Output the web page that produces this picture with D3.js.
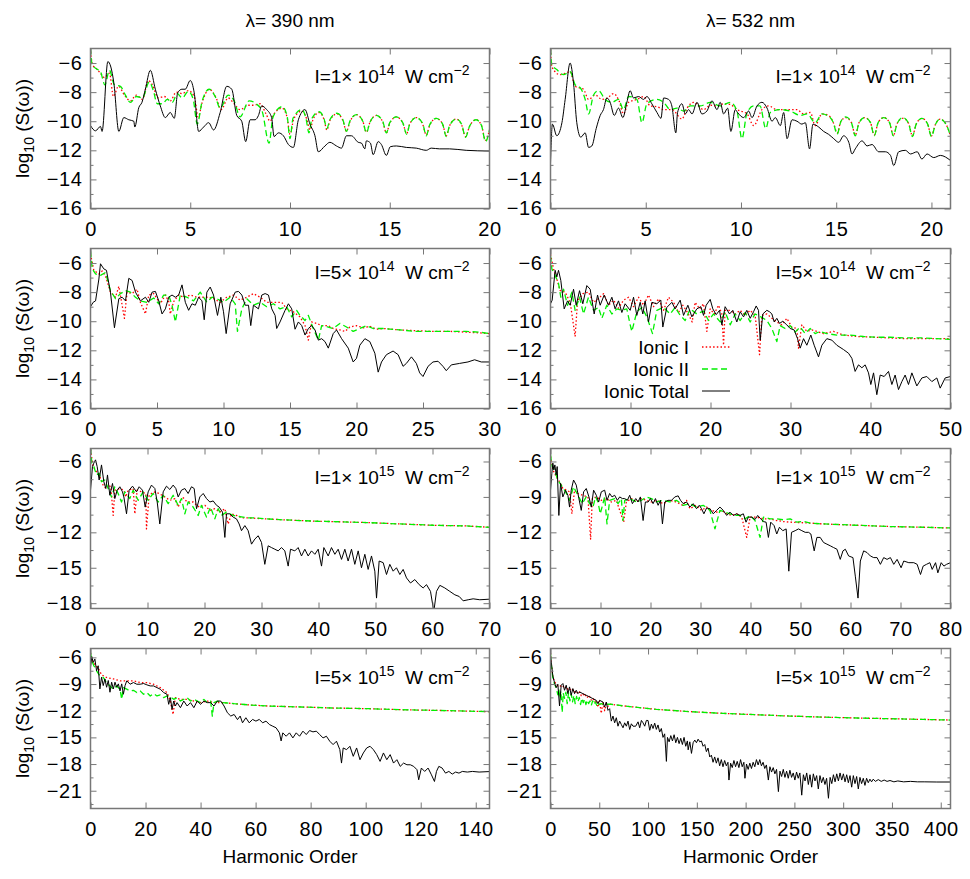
<!DOCTYPE html>
<html><head><meta charset="utf-8">
<script src="https://cdn.jsdelivr.net/npm/d3@7"></script>
<style>body{margin:0;background:#fff}</style>
</head><body>
<svg id="chart" width="970" height="879"></svg>
<script>
// ---------------- DATA (harmonic order, log10 S) ----------------
const p1Total=[[0,-10.3],[0.25,-10.66],[0.5,-10.36],[0.58,-10.7],[0.87,-5.9],[1.17,-7.36],[1.42,-10.7],[1.67,-9.75],[1.92,-9.9],[2.17,-10],[2.22,-10.4],[2.42,-9.07],[2.58,-8.7],[2.75,-7.8],[3.0,-6.5],[3.25,-7.8],[3.5,-8.95],[3.75,-9.75],[4.0,-9.4],[4.2,-9.8],[4.37,-8.05],[4.58,-7.8],[4.75,-7.8],[5.0,-7.2],[5.2,-8.05],[5.42,-10.7],[5.67,-10.4],[5.92,-10.1],[6.17,-10.6],[6.5,-9.4],[6.83,-7.6],[7.08,-7.8],[7.33,-9.6],[7.58,-10],[7.78,-11.4],[8.0,-9.9],[8.25,-9.9],[8.42,-9.6],[8.58,-8.95],[8.83,-9.2],[9.08,-9.75],[9.2,-11.05],[9.42,-10.8],[9.67,-11],[9.92,-11.6],[10.17,-11.8],[10.42,-9.9],[10.75,-9.2],[11.0,-10.2],[11.25,-11],[11.42,-12.1],[11.75,-11.7],[12.0,-11.45],[12.33,-11.7],[12.58,-11.85],[12.83,-11],[13.08,-11],[13.42,-11.45],[13.58,-11.5],[13.75,-11.9],[13.83,-11.35],[14.03,-11.5],[14.17,-12.3],[14.42,-11.4],[14.58,-11.6],[14.83,-12.35],[15.03,-11.75],[15.33,-11.7],[15.83,-11.8],[16.33,-11.85],[16.83,-12.0],[17.08,-11.85],[17.5,-11.9],[18,-11.9],[18.83,-12],[20,-12.05]];
const p1Ion2=[[0,-5.0],[0.08,-6.1],[0.3,-6.4],[0.5,-6.6],[0.72,-7.5],[0.95,-6.5],[1.2,-7.5],[1.5,-7.6],[1.75,-8.2],[2.0,-8.7],[2.3,-8.3],[2.6,-8.4],[2.95,-7.3],[3.15,-7.9],[3.35,-8.8],[3.6,-8.8],[3.85,-8.5],[4.1,-8.7],[4.35,-8.1],[4.6,-8.4],[4.9,-7.95],[5.15,-8.5],[5.35,-10.2],[5.6,-8.6],[5.95,-7.8],[6.25,-8.3],[6.5,-9.1],[6.9,-8.2],[7.2,-8.6],[7.5,-9.7],[7.95,-8.6],[8.3,-8.8],[8.6,-9.3],[8.95,-11.5],[9.15,-9.7],[9.6,-9.0],[9.85,-9.6],[10.0,-11.2],[10.15,-9.8],[10.6,-9.2],[10.8,-9.8],[10.95,-10.8],[11.1,-9.8],[11.45,-9.35],[11.7,-9.8],[11.85,-10.5],[12.0,-9.9],[12.35,-9.45],[12.65,-9.9],[12.83,-10.7],[13.0,-10.0],[13.33,-9.55],[13.65,-10.0],[13.83,-10.8],[14.0,-10.1],[14.33,-9.6],[14.65,-10.0],[14.83,-10.8],[15.0,-10.1],[15.33,-9.7],[15.65,-10.1],[15.85,-10.9],[16.0,-10.2],[16.33,-9.75],[16.65,-10.15],[16.83,-11.0],[17.0,-10.25],[17.33,-9.8],[17.65,-10.2],[17.83,-11.05],[18.0,-10.3],[18.33,-9.85],[18.6,-10.2],[18.8,-11.1],[19.0,-10.35],[19.33,-9.9],[19.6,-10.3],[19.8,-11.4],[20,-10.6]];
const p1Ion1=[[0,-5.2],[0.1,-6.1],[0.3,-6.4],[0.5,-6.7],[0.7,-7.0],[0.95,-6.7],[1.15,-8.3],[1.4,-7.6],[1.7,-8.2],[2.0,-8.6],[2.3,-8.2],[2.6,-8.5],[2.9,-7.2],[3.1,-7.5],[3.4,-8.4],[3.7,-8.3],[4.0,-8.6],[4.3,-8.0],[4.6,-8.1],[4.9,-7.9],[5.2,-8.3],[5.4,-9.7],[5.6,-8.7],[5.95,-7.8],[6.3,-8.4],[6.55,-9.2],[6.9,-8.4],[7.2,-8.8],[7.5,-9.2],[7.9,-8.9],[8.2,-8.9],[8.5,-8.8],[8.8,-9.5],[9.0,-10.0],[9.2,-9.5],[9.6,-9.1],[9.85,-9.7],[10.0,-10.9],[10.2,-9.8],[10.6,-9.3],[10.85,-9.9],[11.0,-10.6],[11.15,-9.9],[11.45,-9.4],[11.7,-9.85],[11.85,-10.6],[12.0,-9.95],[12.35,-9.5],[12.65,-9.95],[12.83,-10.7],[13.0,-10.05],[13.33,-9.55],[13.65,-10.0],[13.83,-10.75],[14.0,-10.1],[14.33,-9.6],[14.65,-10.05],[14.83,-10.8],[15.0,-10.15],[15.33,-9.7],[15.65,-10.1],[15.85,-10.85],[16.0,-10.2],[16.33,-9.75],[16.65,-10.2],[16.83,-10.95],[17.0,-10.3],[17.33,-9.8],[17.65,-10.2],[17.83,-11.0],[18.0,-10.3],[18.33,-9.85],[18.6,-10.25],[18.8,-11.05],[19.0,-10.35],[19.33,-9.9],[19.6,-10.3],[19.8,-11.3],[20,-10.6]];

const p2Total=[[0,-12.9],[0.1,-10.2],[0.33,-11.0],[0.6,-10.1],[0.77,-8.5],[1.03,-6.0],[1.21,-7.4],[1.38,-10.1],[1.59,-11.1],[1.82,-10.8],[2.0,-11.8],[2.17,-11.7],[2.4,-10.5],[2.61,-9.6],[2.78,-9.2],[2.96,-8.4],[3.13,-8.7],[3.35,-9.6],[3.57,-9.1],[3.8,-9.75],[4.01,-8.7],[4.18,-7.9],[4.36,-8.4],[4.62,-8.3],[4.89,-8.5],[5.06,-8.3],[5.32,-8.8],[5.59,-9.4],[5.8,-9.8],[5.94,-8.4],[6.2,-8.5],[6.37,-8.95],[6.58,-10.8],[6.67,-9.4],[6.9,-8.8],[7.08,-9.5],[7.25,-9.2],[7.43,-9.5],[7.69,-8.7],[7.95,-9.5],[8.21,-9.3],[8.48,-8.6],[8.74,-9.2],[8.91,-8.7],[9.09,-9.5],[9.3,-9.1],[9.47,-10.7],[9.7,-9.2],[9.82,-9.4],[10.14,-9.75],[10.4,-9.3],[10.58,-9.75],[10.84,-8.95],[11.1,-8.7],[11.37,-9.1],[11.63,-10.0],[11.8,-9.75],[12.07,-10.3],[12.24,-9.4],[12.42,-11.2],[12.68,-9.9],[12.94,-10],[13.2,-10.2],[13.38,-10.1],[13.6,-11.9],[13.78,-10.2],[14.08,-10.4],[14.34,-10.7],[14.6,-10.9],[14.87,-11.2],[15.13,-11.45],[15.39,-11],[15.66,-11.45],[15.83,-12.25],[16.0,-11.9],[16.36,-11.35],[16.62,-11.7],[16.88,-11.6],[17.23,-12.1],[17.58,-12.1],[17.85,-12.35],[18.02,-13.05],[18.28,-12.1],[18.63,-12.0],[18.9,-12.25],[19.25,-12.1],[19.5,-12.6],[19.77,-12.25],[20.12,-12.5],[20.47,-12.35],[21,-12.7]];
const p2Ion2=[[0,-5.05],[0.07,-6.1],[0.33,-6.45],[0.68,-6.8],[1.03,-6.6],[1.3,-7.5],[1.56,-7.7],[1.82,-8.5],[2.0,-9.5],[2.26,-8.2],[2.52,-7.9],[2.87,-8.5],[3.22,-8.7],[3.57,-8.5],[3.83,-9.2],[4.1,-8.3],[4.54,-8.5],[4.8,-10.1],[5.06,-8.8],[5.59,-8.5],[5.94,-8.7],[6.29,-9.2],[6.64,-9.1],[6.99,-9.3],[7.34,-8.95],[7.86,-8.95],[8.39,-8.7],[8.91,-8.95],[9.44,-8.7],[9.79,-9.3],[10.05,-11.2],[10.32,-9.4],[10.67,-8.95],[11.0,-8.95],[11.3,-10.5],[11.54,-9.4],[12.07,-9.2],[12.59,-9.3],[13.12,-9.6],[13.47,-9.5],[13.9,-10.1],[14.25,-9.5],[14.52,-9.6],[14.85,-10.1],[15.05,-10.9],[15.25,-10.0],[15.5,-9.7],[15.8,-10.1],[16.0,-11.0],[16.2,-10.1],[16.5,-9.75],[16.8,-10.1],[17.0,-11.0],[17.2,-10.1],[17.5,-9.75],[17.8,-10.1],[18.0,-11.0],[18.2,-10.15],[18.5,-9.75],[18.8,-10.15],[19.0,-11.05],[19.2,-10.2],[19.5,-9.8],[19.8,-10.2],[20.0,-11.05],[20.2,-10.25],[20.45,-9.85],[20.8,-10.3],[21,-11.0]];
const p2Ion1=[[0,-5.05],[0.07,-6.25],[0.5,-6.8],[1.03,-6.6],[1.3,-7.6],[1.73,-7.8],[2.0,-8.5],[2.35,-8.2],[2.7,-8.5],[3.0,-8.4],[3.3,-8.1],[3.6,-8.6],[3.83,-9.5],[4.1,-8.7],[4.54,-8.5],[4.89,-8.3],[5.24,-8.95],[5.6,-9.0],[5.94,-9.2],[6.38,-9.2],[6.9,-9.85],[7.17,-9.1],[7.52,-8.7],[8.04,-9.2],[8.4,-8.9],[8.74,-8.95],[9.1,-8.8],[9.44,-8.85],[9.79,-9.2],[10.32,-9.5],[10.67,-10.3],[11.1,-9.2],[11.45,-8.95],[11.89,-9.2],[12.42,-9.2],[12.94,-9.2],[13.29,-9.5],[13.64,-9.4],[13.9,-10.3],[14.25,-9.5],[14.6,-9.6],[14.85,-10.1],[15.05,-10.8],[15.25,-10.0],[15.5,-9.75],[15.8,-10.1],[16.0,-10.95],[16.2,-10.1],[16.5,-9.75],[16.8,-10.1],[17.0,-10.95],[17.2,-10.1],[17.5,-9.75],[17.8,-10.1],[18.0,-11.0],[18.2,-10.15],[18.5,-9.8],[18.8,-10.15],[19.0,-11.0],[19.2,-10.2],[19.5,-9.8],[19.8,-10.2],[20.0,-11.0],[20.2,-10.25],[20.45,-9.85],[20.8,-10.3],[21,-11.0]];

const p3Total=[[0,-9.0],[0.2,-8.7],[0.38,-8.6],[0.63,-7.1],[0.75,-6.05],[1.0,-6.4],[1.2,-6.5],[1.5,-8.0],[1.8,-10.45],[2.13,-8.45],[2.38,-8.35],[2.63,-8.6],[2.88,-7.05],[3.13,-7.2],[3.38,-8.0],[3.75,-8.6],[4.13,-8.35],[4.38,-8.7],[4.63,-8.0],[4.88,-7.95],[5.13,-8.6],[5.38,-9.5],[5.63,-9.15],[5.88,-8.35],[6.13,-8.2],[6.38,-8.35],[6.63,-8.2],[6.88,-7.5],[7.13,-8.7],[7.38,-9.25],[7.63,-8.8],[7.88,-8.9],[8.13,-8.35],[8.38,-8.6],[8.55,-9.9],[8.75,-8.0],[9.0,-7.65],[9.25,-8.2],[9.55,-9.6],[9.8,-8.35],[10.0,-9.35],[10.2,-10.85],[10.5,-8.8],[10.88,-8.0],[11.13,-7.95],[11.38,-8.2],[11.63,-8.9],[11.88,-8.9],[12.05,-10.3],[12.25,-8.9],[12.63,-9.15],[12.88,-8.2],[13.13,-8.1],[13.38,-8.2],[13.63,-9.15],[13.88,-9.6],[14.0,-10.5],[14.25,-10.05],[14.63,-9.25],[14.88,-8.8],[15.13,-9.15],[15.38,-10.55],[15.63,-10.05],[15.88,-10.3],[16.13,-10.95],[16.38,-10.5],[16.63,-10.3],[16.88,-10.6],[17.13,-11.3],[17.38,-11.2],[17.63,-11.4],[17.88,-11.85],[18.25,-10.85],[18.5,-10.6],[18.88,-11.2],[19.38,-11.85],[19.75,-12.8],[20.0,-12.55],[20.25,-11.65],[20.63,-11.2],[21.0,-11.4],[21.38,-12.2],[21.63,-13.5],[21.88,-12.8],[22.25,-12.3],[22.75,-12.05],[23.13,-12.3],[23.5,-13.1],[23.75,-12.9],[24.13,-12.45],[24.5,-12.9],[24.75,-13.55],[25.0,-13.8],[25.38,-13.1],[25.75,-12.8],[26.13,-12.75],[26.5,-13.1],[26.75,-13.4],[27.13,-13.0],[27.75,-12.9],[28.38,-12.8],[28.88,-12.65],[29.38,-12.8],[30,-12.8]];
const p3Ion2=[[0,-5.2],[0.13,-6.4],[0.38,-6.75],[0.75,-6.85],[1.13,-6.65],[1.5,-7.9],[1.88,-8.45],[2.25,-8.1],[2.63,-7.9],[3.0,-8.0],[3.38,-8.35],[3.75,-8.6],[4.25,-8.7],[4.75,-8.4],[5.13,-8.8],[5.5,-8.2],[5.88,-8.2],[6.13,-8.9],[6.38,-10.05],[6.75,-8.2],[7.25,-8.35],[7.75,-8.6],[8.25,-8.0],[8.75,-8.7],[9.13,-8.35],[9.5,-8.45],[10.0,-8.7],[10.5,-8.35],[10.88,-8.8],[11.05,-10.7],[11.38,-9.15],[11.75,-8.45],[12.25,-8.9],[12.75,-8.7],[13.25,-9.0],[13.75,-8.8],[14.25,-9.15],[14.75,-9.0],[15.13,-9.7],[15.5,-9.25],[15.75,-9.6],[16.13,-9.95],[16.38,-9.6],[16.75,-10.5],[17.13,-11.3],[17.38,-10.3],[17.88,-10.4],[18.25,-10.5],[18.75,-10.15],[19.25,-10.4],[19.75,-10.7],[20.25,-10.5],[20.75,-10.3],[21.25,-10.5],[22,-10.5],[23.25,-10.6],[24.5,-10.7],[25.75,-10.7],[27,-10.7],[28.25,-10.7],[29.25,-10.75],[30,-10.85]];
const p3Ion1=[[0,-5.4],[0.25,-6.5],[0.63,-6.75],[0.88,-6.55],[1.13,-6.9],[1.5,-8.0],[1.88,-8.35],[2.13,-7.6],[2.38,-8.9],[2.55,-9.8],[2.75,-8.0],[3.13,-8.1],[3.5,-7.8],[3.75,-8.7],[4.13,-9.5],[4.38,-8.2],[4.75,-8.1],[5.25,-8.8],[5.63,-8.2],[5.88,-8.65],[6.0,-9.5],[6.25,-8.65],[6.63,-8.2],[7.0,-8.35],[7.5,-8.2],[8.0,-8.35],[8.38,-8.35],[8.88,-8.35],[9.25,-8.45],[9.75,-8.7],[10.25,-8.35],[10.75,-8.2],[11.25,-8.55],[11.75,-8.35],[12.25,-8.1],[12.75,-8.35],[13.25,-8.7],[13.75,-8.7],[14.38,-8.7],[14.75,-9.15],[15.25,-9.35],[15.75,-9.7],[16.13,-10.3],[16.38,-11.3],[16.63,-10.05],[17.0,-10.15],[17.38,-10.3],[17.88,-10.3],[18.25,-10.5],[18.75,-10.6],[19.13,-10.7],[19.5,-10.4],[20.0,-10.3],[20.5,-10.45],[21.0,-10.35],[21.5,-10.55],[22,-10.5],[23.25,-10.6],[24.5,-10.65],[25.75,-10.7],[27,-10.7],[28.25,-10.75],[29.25,-10.8],[30,-10.85]];

const p4Total=[[0,-8.8],[0.21,-8.55],[0.58,-6.5],[0.79,-6.95],[1.0,-6.5],[1.29,-7.2],[1.71,-9.15],[2.13,-8.6],[2.46,-8.9],[2.88,-7.8],[3.21,-8.9],[3.63,-7.9],[4.04,-8.8],[4.54,-7.55],[4.96,-7.8],[5.46,-9.5],[5.88,-8.2],[6.21,-8.9],[6.71,-8.2],[7.25,-8.9],[7.67,-8.35],[8.08,-9.15],[8.5,-8.6],[8.92,-9.4],[9.33,-8.8],[9.96,-9.25],[10.38,-8.35],[10.79,-9.6],[11.21,-8.7],[11.54,-9.5],[11.83,-8.6],[12.25,-10.05],[12.67,-8.7],[13.29,-8.8],[13.79,-8.55],[14.04,-10.4],[14.54,-9.05],[15.17,-8.7],[15.58,-9.15],[16.21,-8.55],[16.63,-9.6],[17.17,-8.9],[17.67,-9.7],[18.29,-9.15],[18.79,-9.0],[19.13,-9.6],[19.46,-8.9],[19.96,-8.5],[20.29,-9.15],[20.71,-9.55],[21.13,-9.25],[21.42,-10.25],[21.83,-9.0],[22.38,-9.5],[22.79,-9.25],[23.29,-10.05],[23.71,-9.35],[24.13,-9.7],[24.54,-9.25],[24.96,-9.8],[25.38,-9.35],[25.71,-8.95],[26.0,-9.25],[26.21,-11.3],[26.54,-9.5],[27.04,-9.25],[27.38,-9.35],[27.67,-9.5],[27.96,-10.05],[28.29,-9.8],[28.63,-10.15],[29.04,-10.0],[29.54,-10.25],[29.96,-10.5],[30.46,-10.6],[30.88,-11.2],[31.21,-11.85],[31.63,-11.2],[32.04,-11.65],[32.54,-10.95],[32.96,-11.65],[33.5,-12.45],[33.92,-11.65],[34.54,-11.2],[35.17,-11.3],[35.79,-11.65],[36.63,-11.95],[37.25,-12.2],[37.67,-12.55],[38.08,-13.45],[38.5,-13.0],[38.92,-13.2],[39.33,-13.0],[39.75,-13.55],[40.04,-14.35],[40.38,-13.55],[40.79,-15.05],[41.21,-13.7],[41.71,-13.8],[42.25,-13.45],[42.67,-14.35],[43.08,-13.7],[43.5,-14.7],[43.92,-14.15],[44.33,-13.7],[44.75,-14.35],[45.17,-13.55],[45.79,-14.45],[46.42,-13.9],[47.04,-13.8],[47.67,-14.15],[48.29,-13.9],[48.71,-14.6],[49.33,-13.9],[50,-13.8]];
const p4Ion2=[[0,-5.5],[0.17,-6.4],[0.58,-6.85],[1.0,-7.4],[1.29,-8.35],[1.63,-7.8],[2.13,-8.9],[2.67,-8.0],[3.08,-9.25],[3.63,-8.35],[4.13,-9.5],[4.75,-8.35],[5.38,-9.25],[6.0,-9.05],[6.42,-9.8],[7.04,-8.9],[7.67,-9.5],[8.29,-9.15],[8.92,-9.25],[9.54,-9.15],[9.96,-10.25],[10.17,-10.7],[10.79,-9.35],[11.42,-9.05],[12.04,-9.7],[12.75,-10.85],[13.29,-9.25],[14.13,-9.05],[14.96,-9.5],[15.58,-9.05],[16.21,-9.6],[16.83,-9.95],[17.46,-9.15],[18.29,-9.5],[19.13,-9.3],[19.75,-9.95],[20.38,-9.5],[21.21,-10.05],[21.83,-9.35],[22.46,-10.25],[23.08,-9.5],[23.71,-9.95],[24.33,-9.4],[24.96,-10.05],[25.58,-9.5],[26.29,-9.7],[27.04,-9.95],[27.67,-10.5],[28.29,-11.4],[28.71,-10.3],[29.33,-10.5],[29.96,-10.3],[30.58,-10.75],[31.21,-10.4],[31.83,-10.85],[32.46,-10.5],[33.08,-10.85],[33.71,-10.7],[34.54,-10.85],[35.79,-10.95],[37.46,-10.95],[39.13,-11.05],[40.79,-11.1],[42.46,-11.1],[44.54,-11.15],[46.63,-11.15],[48.29,-11.2],[50,-11.25]];
const p4Ion1=[[0,-5.4],[0.38,-6.4],[0.79,-7.1],[1.21,-7.9],[1.83,-8.0],[2.46,-8.7],[3.08,-11.05],[3.38,-8.6],[4.04,-8.1],[4.75,-8.0],[5.38,-8.7],[6.0,-8.45],[6.63,-8.1],[7.25,-8.9],[7.88,-8.55],[8.5,-9.1],[9.13,-8.55],[9.75,-8.35],[10.38,-9.0],[11.0,-8.35],[11.63,-8.9],[12.25,-8.2],[12.88,-9.0],[13.5,-8.45],[14.13,-9.25],[14.75,-8.35],[15.38,-8.7],[16.0,-9.4],[16.54,-8.9],[17.13,-9.4],[17.71,-10.05],[18.08,-8.7],[18.63,-9.15],[19.13,-8.8],[19.54,-10.7],[19.96,-9.15],[20.46,-9.5],[21.0,-8.9],[21.42,-9.5],[21.63,-11.65],[21.83,-9.25],[22.46,-9.25],[23.08,-9.5],[23.71,-9.25],[24.33,-9.6],[24.96,-9.25],[25.58,-9.6],[26.13,-12.3],[26.42,-9.6],[27.04,-9.5],[27.67,-9.8],[28.29,-10.05],[28.92,-10.25],[29.54,-9.8],[30.17,-10.4],[30.79,-10.5],[31.0,-11.85],[31.42,-10.25],[32.04,-10.7],[32.67,-10.6],[33.29,-10.7],[34.13,-10.85],[35.38,-10.7],[36.63,-10.95],[38.29,-11.05],[40.38,-11.1],[42.46,-11.15],[44.54,-11.2],[46.63,-11.2],[50,-11.2]];

const p5Total=[[0,-8.43],[0.35,-6.43],[0.58,-6.14],[0.88,-5.86],[1.17,-6.43],[1.52,-7.57],[1.93,-6.29],[2.34,-7.71],[2.69,-8.29],[2.98,-7.14],[3.39,-8.86],[3.86,-7.86],[4.27,-9.14],[4.68,-8.43],[5.15,-8.14],[5.61,-8.57],[5.85,-9.0],[6.32,-10.43],[6.78,-8.43],[7.37,-8.09],[8.07,-8.57],[8.54,-8.14],[9.12,-8.43],[9.59,-9.86],[10.12,-8.57],[10.7,-8.0],[11.29,-8.29],[11.7,-9.43],[12.16,-11.29],[12.75,-8.57],[13.33,-8.09],[13.92,-8.37],[14.5,-8.0],[14.97,-8.29],[15.38,-9.0],[15.96,-8.43],[16.55,-8.29],[17.13,-8.71],[17.72,-8.14],[18.19,-8.29],[18.6,-10.0],[19.18,-9.0],[19.77,-8.71],[20.35,-9.14],[20.94,-9.43],[21.52,-9.34],[22.11,-9.71],[22.57,-9.86],[23.16,-10.29],[23.57,-12.43],[23.86,-10.43],[24.44,-10.43],[25.03,-10.71],[25.61,-10.86],[26.08,-11.29],[26.49,-11.86],[27.08,-11.43],[27.66,-11.86],[28.25,-13.0],[28.83,-12.57],[29.42,-12.29],[30.0,-12.86],[30.58,-14.71],[31.17,-13.14],[31.75,-13.29],[32.34,-13.43],[32.92,-13.57],[33.51,-13.29],[34.09,-13.57],[34.68,-14.86],[35.09,-13.43],[35.85,-13.57],[36.43,-13.29],[37.02,-14.0],[37.6,-13.43],[38.19,-14.0],[38.77,-13.57],[39.36,-13.86],[39.94,-13.43],[40.53,-14.86],[40.94,-13.29],[41.7,-14.0],[42.28,-13.29],[42.87,-13.86],[43.45,-13.43],[44.04,-14.29],[44.62,-13.43],[45.2,-14.43],[45.79,-13.43],[46.37,-14.71],[46.96,-13.57],[47.54,-15.0],[48.13,-13.86],[48.71,-15.14],[49.3,-14.0],[49.88,-15.29],[50.18,-17.57],[50.64,-14.43],[51.35,-14.57],[51.93,-15.57],[52.51,-14.71],[53.1,-15.29],[53.68,-15.0],[54.27,-15.57],[54.85,-15.14],[55.44,-15.86],[56.14,-16.29],[56.9,-16.0],[57.66,-16.43],[58.36,-16.71],[58.95,-16.43],[59.65,-17.0],[60.23,-18.71],[60.7,-17.0],[61.29,-16.49],[62.16,-16.71],[63.04,-17.0],[63.92,-17.29],[64.68,-17.43],[65.38,-17.8],[66.26,-17.71],[67.13,-17.63],[68.3,-17.71],[70,-17.66]];
const p5Ion2=[[0,-4.86],[0.23,-6.14],[0.58,-6.43],[1.05,-7.14],[1.52,-7.0],[1.93,-7.71],[2.51,-7.57],[3.1,-8.29],[3.68,-9.0],[4.27,-8.14],[4.85,-8.71],[5.44,-9.43],[6.02,-8.57],[6.9,-9.14],[7.49,-8.43],[8.36,-9.29],[9.24,-8.57],[10.12,-9.29],[11.0,-8.71],[11.87,-9.43],[12.75,-8.86],[13.63,-9.57],[14.5,-8.86],[15.38,-9.71],[15.96,-9.14],[16.55,-10.43],[17.13,-9.43],[18.01,-9.86],[18.89,-10.57],[19.47,-9.71],[20.35,-10.71],[21.05,-9.86],[21.81,-10.86],[22.4,-10.0],[22.98,-10.57],[23.86,-10.29],[25.03,-10.57],[26.2,-10.66],[27.37,-10.77],[28.54,-10.77],[30.88,-10.86],[33.8,-10.94],[36.73,-11.0],[39.65,-11.06],[42.57,-11.09],[48.42,-11.17],[54.27,-11.29],[60.12,-11.4],[65.96,-11.46],[70,-11.57]];
const p5Ion1=[[0,-5.0],[0.47,-6.43],[1.05,-6.86],[1.64,-7.29],[2.22,-8.0],[2.69,-8.29],[3.1,-8.0],[3.57,-8.14],[3.98,-10.57],[4.27,-8.43],[5.15,-8.29],[5.85,-8.43],[6.2,-9.0],[6.61,-8.43],[7.49,-8.29],[7.78,-10.43],[8.19,-8.43],[8.95,-8.57],[9.71,-8.71],[9.82,-11.71],[10.29,-8.86],[11.11,-8.57],[12.05,-8.71],[13.04,-9.0],[13.92,-9.29],[14.8,-9.14],[15.38,-9.86],[16.14,-9.0],[16.96,-9.43],[18.01,-9.43],[19.06,-9.86],[20.06,-9.71],[20.94,-10.14],[21.81,-10.0],[22.69,-10.29],[23.57,-10.0],[24.15,-11.29],[24.74,-10.43],[25.61,-10.57],[26.49,-10.77],[27.37,-10.77],[28.54,-10.8],[30.88,-10.86],[33.8,-10.94],[36.73,-11.0],[39.65,-11.06],[42.57,-11.09],[48.42,-11.17],[54.27,-11.29],[60.12,-11.4],[65.96,-11.46],[70,-11.57]];

const p6Total=[[0,-8.43],[0.27,-7.0],[0.47,-6.14],[0.67,-6.71],[0.87,-6.29],[1.14,-7.14],[1.34,-6.43],[1.67,-10.57],[2.01,-7.86],[2.47,-9.0],[3.01,-8.43],[3.48,-8.86],[3.81,-9.86],[4.14,-8.43],[4.61,-7.57],[5.15,-8.0],[5.68,-9.14],[6.15,-10.14],[6.62,-8.57],[7.15,-8.29],[7.69,-9.0],[8.16,-9.86],[8.62,-8.43],[9.16,-8.86],[9.63,-9.43],[10.16,-8.57],[10.83,-8.43],[11.3,-9.29],[11.83,-8.71],[12.3,-9.0],[12.83,-8.86],[13.37,-9.29],[13.84,-9.0],[14.37,-9.14],[14.84,-9.14],[15.37,-9.29],[15.84,-8.86],[16.38,-9.57],[17.05,-9.14],[17.51,-9.43],[17.98,-9.0],[18.52,-11.0],[18.98,-9.43],[19.52,-9.43],[19.99,-9.14],[20.52,-9.57],[20.99,-9.14],[21.52,-9.71],[21.99,-9.29],[22.39,-11.29],[22.86,-9.43],[23.53,-9.29],[24.2,-9.29],[24.87,-9.0],[25.53,-8.91],[26.0,-9.29],[26.54,-9.57],[27.21,-9.43],[27.87,-9.86],[28.54,-9.57],[29.21,-10.0],[29.75,-9.71],[30.21,-10.0],[30.68,-10.43],[31.22,-9.94],[31.88,-10.0],[32.55,-10.43],[33.22,-10.14],[33.89,-9.86],[34.56,-10.14],[35.23,-10.57],[35.9,-10.29],[36.56,-10.57],[37.23,-10.43],[37.9,-10.57],[38.57,-10.43],[39.1,-11.14],[39.57,-10.71],[40.24,-10.71],[40.91,-10.91],[41.44,-10.57],[42.05,-10.86],[42.58,-11.09],[43.12,-11.14],[43.58,-12.43],[44.05,-11.14],[44.72,-11.43],[45.25,-12.14],[45.79,-11.57],[46.46,-11.86],[47.13,-11.71],[47.66,-15.29],[48.2,-12.0],[48.93,-11.86],[49.6,-11.71],[50.27,-11.86],[50.94,-12.0],[51.6,-12.0],[52.07,-12.14],[52.74,-13.57],[53.28,-12.43],[53.94,-12.43],[54.61,-12.86],[55.28,-13.0],[55.95,-13.14],[56.62,-13.29],[57.29,-13.43],[57.95,-14.29],[58.49,-13.57],[58.96,-13.43],[59.63,-14.0],[60.49,-14.14],[60.96,-15.71],[61.5,-17.57],[61.97,-14.43],[62.63,-13.57],[63.3,-13.71],[63.97,-14.0],[64.64,-14.14],[65.31,-14.14],[65.98,-14.71],[66.64,-14.14],[67.31,-14.29],[67.98,-14.14],[68.65,-14.71],[69.32,-14.29],[70.12,-15.0],[70.65,-14.43],[71.66,-14.57],[72.66,-14.57],[73.33,-14.71],[74.0,-15.57],[74.53,-14.86],[75.2,-14.71],[75.87,-14.57],[76.34,-15.14],[77.01,-14.57],[77.47,-15.43],[78.14,-14.57],[78.68,-14.86],[79.21,-14.71],[80,-14.57]];
const p6Ion2=[[0,-5.43],[0.33,-6.43],[0.8,-6.71],[1.47,-7.57],[2.14,-8.0],[3.01,-8.57],[3.81,-9.29],[4.61,-8.14],[5.48,-8.86],[6.35,-9.57],[7.15,-9.0],[7.82,-9.57],[8.49,-9.86],[9.02,-9.0],[9.49,-9.43],[9.96,-10.43],[10.83,-9.0],[11.3,-11.29],[11.83,-9.29],[12.83,-9.14],[13.5,-9.57],[14.17,-9.14],[14.5,-11.0],[14.84,-9.3],[15.84,-9.14],[17.18,-9.43],[18.18,-9.29],[19.18,-9.0],[20.19,-9.14],[21.19,-9.43],[22.53,-9.29],[23.86,-9.43],[25.2,-9.29],[26.54,-9.71],[27.87,-9.57],[29.21,-9.86],[30.55,-9.71],[31.88,-10.14],[32.89,-11.71],[33.89,-10.14],[34.89,-10.29],[35.9,-10.43],[36.9,-10.57],[37.9,-10.57],[38.9,-10.86],[39.91,-10.57],[40.91,-11.0],[41.91,-12.43],[42.58,-10.71],[43.92,-10.86],[45.25,-10.86],[46.59,-10.94],[47.93,-10.86],[49.26,-11.14],[50.6,-11.06],[51.94,-11.23],[54.61,-11.29],[57.95,-11.34],[61.3,-11.4],[64.64,-11.46],[67.98,-11.51],[71.32,-11.54],[74.67,-11.57],[80,-11.63]];
const p6Ion1=[[0,-5.57],[0.47,-6.71],[1.14,-7.29],[1.8,-7.71],[2.47,-8.29],[3.28,-8.43],[3.81,-8.57],[4.28,-10.43],[4.81,-8.43],[5.48,-8.71],[6.48,-8.86],[7.49,-9.0],[7.82,-11.29],[8.02,-12.57],[8.36,-9.14],[9.16,-9.0],[10.16,-9.29],[11.16,-9.14],[12.17,-9.43],[13.17,-9.29],[14.64,-11.14],[15.17,-9.43],[16.18,-9.14],[17.18,-9.43],[18.18,-9.14],[19.18,-9.29],[20.19,-9.43],[21.19,-9.29],[22.53,-9.57],[23.86,-9.29],[25.2,-9.43],[26.4,-9.71],[27.21,-9.29],[27.87,-10.0],[29.08,-9.71],[30.21,-10.14],[31.22,-9.86],[32.22,-10.14],[33.22,-10.29],[34.22,-10.14],[35.23,-10.43],[36.23,-10.57],[37.23,-10.43],[38.24,-10.71],[39.24,-12.43],[39.91,-10.71],[41.24,-10.71],[42.58,-10.86],[43.92,-10.86],[45.25,-11.0],[46.59,-11.09],[47.93,-11.14],[51.27,-11.2],[54.61,-11.29],[61.3,-11.4],[67.98,-11.51],[74.67,-11.57],[80,-11.63]];

const p7Total=[[0,-7.13],[0.49,-5.92],[0.98,-6.57],[1.59,-6.19],[2.2,-7.51],[2.8,-6.94],[3.41,-9.55],[4.02,-8.23],[4.63,-9.17],[5.24,-8.42],[5.85,-9.36],[6.46,-8.6],[7.07,-9.92],[7.68,-8.79],[8.29,-9.55],[8.9,-8.79],[9.51,-9.36],[10.12,-8.98],[10.73,-9.77],[11.34,-8.98],[11.95,-10.15],[12.56,-9.17],[13.17,-8.64],[14.39,-9.02],[15.61,-8.83],[16.83,-9.02],[18.05,-9.02],[19.27,-8.94],[20.49,-9.09],[21.71,-9.21],[22.93,-9.21],[24.15,-9.4],[25.37,-9.58],[26.59,-9.96],[27.8,-10.15],[28.41,-11.28],[29.02,-10.53],[29.63,-11.85],[30.24,-10.91],[30.85,-11.47],[31.46,-11.09],[32.68,-11.66],[33.9,-10.91],[35.12,-11.47],[36.34,-11.09],[37.56,-11.66],[38.78,-10.91],[40.0,-11.28],[41.22,-10.91],[42.44,-11.09],[43.66,-11.09],[44.88,-11.47],[46.1,-10.91],[47.32,-10.91],[48.54,-11.47],[49.76,-12.23],[50.98,-12.6],[52.2,-12.42],[53.41,-13.0],[54.39,-12.6],[55.24,-13.36],[56.46,-12.79],[57.68,-13.36],[58.9,-12.98],[60.12,-13.17],[61.34,-12.98],[62.56,-13.36],[63.78,-13.17],[65.0,-13.55],[66.22,-13.74],[67.44,-13.92],[68.66,-14.49],[69.27,-15.4],[69.88,-14.49],[71.1,-14.87],[72.32,-14.49],[73.54,-15.06],[74.76,-14.49],[75.98,-14.87],[77.2,-14.3],[78.41,-14.68],[79.63,-14.23],[80.85,-14.38],[82.07,-14.3],[83.29,-14.68],[84.51,-15.06],[85.73,-14.87],[86.95,-15.43],[88.17,-15.81],[89.39,-15.43],[90.61,-16.38],[91.22,-17.89],[91.83,-16.19],[93.05,-16.38],[94.27,-16.0],[95.49,-17.13],[96.71,-16.19],[97.93,-17.51],[99.15,-16.75],[100.37,-16.19],[101.59,-16.0],[102.8,-16.38],[104.02,-16.94],[105.24,-17.7],[106.46,-16.75],[107.68,-17.51],[108.9,-16.94],[110.12,-17.89],[111.34,-17.51],[112.56,-18.26],[113.78,-17.89],[115.0,-18.08],[116.22,-18.08],[117.44,-18.26],[118.66,-18.64],[119.27,-19.77],[120.24,-18.45],[121.46,-18.83],[122.68,-18.45],[123.9,-19.21],[125.0,-19.96],[125.73,-18.83],[126.59,-18.26],[127.8,-18.45],[129.02,-19.02],[130.24,-18.83],[131.46,-19.13],[132.68,-18.9],[133.9,-19.02],[135.12,-18.83],[136.95,-18.9],[138.78,-18.83],[141.22,-18.9],[146,-18.83]];
const p7Ion2=[[0,-5.45],[0.49,-6.38],[1.22,-6.94],[2.2,-7.51],[3.41,-8.08],[4.63,-8.26],[5.85,-8.83],[7.07,-9.21],[8.29,-9.58],[9.51,-9.21],[10.73,-9.58],[11.34,-10.72],[11.95,-9.4],[13.17,-9.58],[14.39,-9.77],[15.61,-9.7],[16.83,-9.96],[18.05,-9.77],[19.27,-10.15],[20.49,-9.96],[21.71,-10.34],[22.93,-10.08],[24.15,-10.34],[25.37,-10.23],[26.59,-10.53],[27.8,-10.34],[29.02,-10.45],[30.24,-10.72],[31.46,-10.53],[32.68,-10.91],[33.9,-10.72],[35.12,-10.53],[36.34,-10.91],[37.56,-10.72],[38.78,-10.91],[40.0,-11.09],[41.22,-10.72],[42.44,-11.09],[43.66,-10.91],[44.27,-12.6],[44.88,-11.09],[46.1,-10.91],[47.32,-11.09],[49.76,-11.13],[52.2,-11.21],[58.29,-11.36],[64.39,-11.47],[76.59,-11.58],[88.78,-11.7],[100.98,-11.77],[113.17,-11.89],[125.37,-11.96],[146,-12.11]];
const p7Ion1=[[0,-5.51],[0.73,-6.45],[1.59,-6.83],[2.8,-7.21],[4.02,-7.96],[5.85,-8.26],[8.29,-8.42],[10.73,-8.64],[13.17,-8.64],[15.61,-8.64],[18.05,-8.83],[20.49,-8.83],[22.93,-9.02],[25.37,-9.4],[27.8,-9.96],[29.02,-10.91],[30.0,-12.42],[30.85,-10.53],[32.68,-10.72],[35.12,-10.72],[37.56,-10.91],[40.0,-11.09],[42.44,-10.91],[44.88,-11.09],[47.32,-11.09],[49.76,-11.13],[52.2,-11.21],[58.29,-11.36],[64.39,-11.47],[76.59,-11.58],[88.78,-11.7],[100.98,-11.77],[113.17,-11.89],[125.37,-11.96],[146,-12.11]];

const p8Total=[[0,-5.81],[1.03,-6.75],[2.4,-8.08],[4.11,-8.83],[5.82,-9.4],[7.53,-9.02],[9.25,-11.47],[10.96,-9.13],[12.67,-8.94],[14.38,-9.7],[16.1,-9.13],[17.81,-10.08],[19.52,-9.32],[21.23,-10.26],[22.95,-9.51],[24.66,-10.08],[26.37,-9.7],[28.08,-10.08],[29.79,-9.89],[33.22,-10.08],[36.64,-10.26],[40.07,-10.45],[43.49,-10.64],[46.92,-10.83],[48.63,-11.21],[50.34,-10.83],[53.77,-11.02],[55.48,-11.58],[57.19,-11.02],[58.9,-11.96],[60.62,-11.77],[62.33,-13.17],[64.04,-12.6],[65.75,-13.36],[67.47,-12.79],[69.18,-13.74],[70.89,-13.17],[72.6,-13.55],[74.32,-13.92],[76.03,-13.36],[77.74,-13.74],[79.45,-13.17],[81.16,-14.11],[82.88,-13.47],[84.59,-13.74],[87.33,-13.74],[89.73,-13.25],[91.44,-13.92],[93.15,-13.09],[94.86,-13.36],[96.58,-13.74],[98.29,-13.09],
[100,-13.1],[101.7,-14.2],[103.4,-13.5],[105.1,-14.0],[106.8,-13.4],[108.5,-14.1],[110.2,-13.6],[111.9,-14.4],[113.6,-14.0],[115.3,-15.0],[117.0,-14.6],[118.0,-16.2],[118.8,-17.7],[119.9,-15.0],[121.6,-15.5],[123.3,-14.8],[125.0,-15.4],[126.7,-14.7],[128.4,-15.6],[130.1,-15.0],[131.8,-15.7],[133.5,-15.1],[135.2,-15.8],[136.9,-15.0],[138.6,-16.0],[140.3,-15.4],[141.1,-16.4],[142.8,-15.5],[144.5,-16.8],[146.2,-15.6],[147.9,-15.3],[149.6,-15.6],[151.3,-15.2],[153.0,-15.5],[154.7,-15.4],[156.4,-16.0],[158.1,-15.8],[159.8,-16.6],[161.5,-16.2],[163.2,-17.2],[164.9,-17.0],[166.6,-17.8],[168.3,-17.2],[170.0,-17.9],[171.7,-17.3],[173.4,-18.2],[175.1,-17.5],[176.8,-18.3],[178.5,-17.6],[180.2,-18.2],[181.9,-17.8],[182.9,-19.8],[184.6,-17.9],[186.3,-18.4],[188.0,-17.6],[189.7,-18.3],[191.4,-17.7],[193.1,-18.4],[194.8,-17.5],[196.5,-18.3],[198.2,-17.8],[199.3,-19.6],[200.9,-18.0],[202.6,-18.6],[204.3,-17.9],[206.0,-18.5],[207.7,-17.8],[209.4,-18.3],[211.1,-17.5],[212.8,-18.1],[214.5,-17.5],[216.2,-18.2],[217.9,-17.8],[219.6,-18.5],[221.3,-18.1],[223.3,-19.8],[224.9,-18.3],[226.6,-18.9],[228.3,-18.4],[230.0,-19.1],[231.7,-18.6],[233.6,-21.1],[235.2,-18.8],[236.9,-19.4],[238.6,-18.6],[240.3,-19.5],[242.0,-18.8],[243.7,-19.6],[245.4,-18.7],[247.1,-19.5],[248.8,-19.0],[250.5,-19.8],[252.2,-18.9],[253.9,-19.6],[255.6,-19.0],[257.5,-21.5],[259.2,-19.2],[260.9,-19.9],[262.6,-19.0],[264.3,-20.3],[266.0,-19.2],[267.7,-20.6],[269.4,-19.1],[271.1,-19.9],[272.8,-19.3],[274.5,-20.8],[276.2,-19.3],[277.9,-20.1],[279.6,-19.5],[281.3,-20.3],[283.0,-19.6],[284.9,-21.85],[286.6,-19.5],[288.3,-20.2],[290.0,-19.2],[291.7,-20.0],[293.4,-19.1],[295.1,-19.9],[296.8,-19.0],[298.5,-19.8],[300.2,-19.1],[301.9,-20.0],[303.6,-19.2],[305.3,-20.1],[307.0,-19.3],[308.7,-20.6],[310.4,-19.3],[312.1,-20.2],[313.8,-19.4],[315.5,-20.8],[317.2,-19.5],[318.9,-20.2],[320.6,-19.6],[322.3,-20.4],[324.0,-19.6],[325.7,-20.1],[327.4,-19.7],[329.1,-20.0],[330.8,-19.7],[333,-19.95],[336,-19.75],[339,-19.95],[342,-19.8],[345,-19.95],[348,-19.85],[352,-20.0],[356,-19.9],[362,-20.0],[369,-19.95],[376,-20.0],[383,-20.0],[396,-20.02],[410,-20.02]];
const p8Ion2=[[0,-5.6],[1,-7.0],[2.4,-8.3],[4.1,-9.0],[5.8,-9.4],[7.5,-10.2],[8.5,-9.6],[9.6,-10.6],[10.6,-9.8],[12.0,-12.2],[13,-10.0],[14.4,-10.6],[15.8,-9.9],[17.1,-11.2],[18.5,-10.0],[19.9,-10.9],[21.2,-10.1],[22.6,-11.0],[24,-10.3],[25.3,-11.2],[26.7,-10.4],[28.1,-11.0],[29.5,-10.5],[30.8,-11.3],[32.2,-10.6],[33.6,-11.1],[35,-10.7],[36.3,-11.3],[37.7,-10.8],[39,-11.2],[40.4,-10.9],[41.8,-11.4],[43.2,-10.9],[44.5,-11.3],[46,-11.0],[47.3,-11.4],[48.7,-11.1],[50,-11.3],[52,-11.2],[55,-11.3],[60.6,-11.25],[74.3,-11.45],[91.4,-11.65],[108.6,-11.85],[142.8,-12.1],[177.1,-12.3],[211.3,-12.45],[245.5,-12.6],[279.8,-12.72],[314,-12.82],[348.3,-12.9],[382.5,-12.98],[410,-13.05]];
const p8Ion1=[[0,-5.5],[1,-6.9],[2.4,-8.2],[4.1,-8.7],[5.8,-9.0],[7.5,-9.2],[9.2,-9.1],[11,-9.3],[12.7,-9.2],[14.4,-9.5],[16.1,-9.3],[17.8,-9.6],[19.5,-9.5],[21.2,-9.8],[22.9,-9.6],[24.7,-9.9],[26.4,-9.8],[28.1,-10.1],[29.8,-9.9],[31.5,-10.3],[33.2,-10.1],[34.9,-10.4],[36.6,-10.2],[38.4,-10.6],[40.1,-10.4],[41.8,-10.8],[43.5,-10.6],[45.2,-11.0],[46.9,-10.8],[48.6,-11.6],[50.3,-10.9],[52,-12.3],[53.8,-11.0],[55.5,-12.0],[57.2,-11.2],[58.9,-11.5],[60.6,-11.25],[74.3,-11.45],[91.4,-11.65],[108.6,-11.85],[142.8,-12.1],[177.1,-12.3],[211.3,-12.45],[245.5,-12.6],[279.8,-12.72],[314,-12.82],[348.3,-12.9],[382.5,-12.98],[410,-13.05]];

// tick labels
const xTicks1=[0,5,10,15,20], xTicks3=[0,5,10,15,20,25,30], xTicks4=[0,10,20,30,40,50];
const xTicks5=[0,10,20,30,40,50,60,70], xTicks6=[0,10,20,30,40,50,60,70,80];
const xTicks7=[0,20,40,60,80,100,120,140], xTicks8=[0,50,100,150,200,250,300,350,400];
const yTicksA=[-16,-14,-12,-10,-8,-6], yMinorA=[-15,-13,-11,-9,-7];
const yTicksB=[-18,-15,-12,-9,-6], yMinorB=[-16.5,-13.5,-10.5,-7.5];
const yTicksC=[-21,-18,-15,-12,-9,-6], yMinorC=[-22.5,-19.5,-16.5,-13.5,-10.5,-7.5];
const titles=["λ= 390 nm","λ= 532 nm"];
const seriesNames=["Ionic I","Ionic II","Ionic Total"];

const panels=[
 {row:0,col:0,xMax:20,yDom:[-16,-5],xT:xTicks1,yT:yTicksA,yM:yMinorA,I:['1','14'],d:[p1Ion1,p1Ion2,p1Total],smooth:true},
 {row:0,col:1,xMax:21,yDom:[-16,-5],xT:xTicks1,yT:yTicksA,yM:yMinorA,I:['1','14'],d:[p2Ion1,p2Ion2,p2Total],smooth:true},
 {row:1,col:0,xMax:30,yDom:[-16,-5],xT:xTicks3,yT:yTicksA,yM:yMinorA,I:['5','14'],d:[p3Ion1,p3Ion2,p3Total]},
 {row:1,col:1,xMax:50,yDom:[-16,-5],xT:xTicks4,yT:yTicksA,yM:yMinorA,I:['5','14'],d:[p4Ion1,p4Ion2,p4Total]},
 {row:2,col:0,xMax:70,yDom:[-18.45,-4.9],xT:xTicks5,yT:yTicksB,yM:yMinorB,I:['1','15'],d:[p5Ion1,p5Ion2,p5Total]},
 {row:2,col:1,xMax:80,yDom:[-18.45,-4.9],xT:xTicks6,yT:yTicksB,yM:yMinorB,I:['1','15'],d:[p6Ion1,p6Ion2,p6Total]},
 {row:3,col:0,xMax:145,yDom:[-23,-5],xT:xTicks7,yT:yTicksC,yM:yMinorC,I:['5','15'],d:[p7Ion1,p7Ion2,p7Total]},
 {row:3,col:1,xMax:410,yDom:[-23,-5],xT:xTicks8,yT:yTicksC,yM:yMinorC,I:['5','15'],d:[p8Ion1,p8Ion2,p8Total]}
];

// ---------------- DRAW ----------------
const FONT="'Liberation Sans', Arial, Helvetica, sans-serif";
const svg=d3.select('#chart').style('font-family',FONT);
svg.append('rect').attr('width',970).attr('height',879).attr('fill','#fff');
const colX=[[90.5,489.5],[550.5,950.5]];
const rowY=[48.5,248.5,448.5,648.5];
const H=160;
const annoDy=[34.5,30,35,35];
const styles=[
 {stroke:'#ff0000',w:1.3,dash:'1.5,2.2'},
 {stroke:'#00f000',w:1.3,dash:'6,3.5'},
 {stroke:'#000000',w:1,dash:null}
];
const axisColor='#777';

function styleAxis(g){
  g.select('.domain').remove();
  g.selectAll('line').attr('stroke',axisColor).attr('stroke-width',1);
  g.selectAll('text').attr('fill','#000').attr('font-size',20).attr('letter-spacing',0.6).attr('font-family',FONT);
}

panels.forEach((p,i)=>{
  const [L,R]=colX[p.col]; const T=rowY[p.row]; const B=T+H;
  const x=d3.scaleLinear().domain([0,p.xMax]).range([L,R]);
  const y=d3.scaleLinear().domain(p.yDom).range([B,T]);
  const cid='clip'+i;
  svg.append('clipPath').attr('id',cid).append('rect').attr('x',L).attr('y',T).attr('width',R-L).attr('height',H);
  const lg=svg.append('g').attr('clip-path',`url(#${cid})`);
  const line=d3.line().x(d=>x(d[0])).y(d=>y(d[1])).curve(p.smooth?d3.curveMonotoneX:d3.curveLinear);
  p.d.forEach((s,k)=>{
    const st=styles[k];
    const path=lg.append('path').datum(s).attr('d',line).attr('fill','none')
      .attr('stroke',st.stroke).attr('stroke-width',st.w).attr('stroke-linejoin','round');
    if(st.dash) path.attr('stroke-dasharray',st.dash);
  });
  // axes (ticks inward, mirrored)
  svg.append('g').attr('transform',`translate(0,${B})`)
    .call(d3.axisBottom(x).tickValues(p.xT).tickFormat(d3.format('d')).tickSizeInner(-6).tickSizeOuter(0).tickPadding(13))
    .call(styleAxis);
  svg.append('g').attr('transform',`translate(0,${T})`)
    .call(d3.axisTop(x).tickValues(p.xT).tickFormat('').tickSizeInner(-6).tickSizeOuter(0)).call(styleAxis);
  svg.append('g').attr('transform',`translate(${L},0)`)
    .call(d3.axisLeft(y).tickValues(p.yT).tickFormat(d3.format('d')).tickSizeInner(-6).tickSizeOuter(0).tickPadding(8))
    .call(styleAxis);
  svg.append('g').attr('transform',`translate(${L},0)`)
    .call(d3.axisLeft(y).tickValues(p.yM).tickFormat('').tickSizeInner(-3).tickSizeOuter(0)).call(styleAxis);
  svg.append('g').attr('transform',`translate(${R},0)`)
    .call(d3.axisRight(y).tickValues(p.yT).tickFormat('').tickSizeInner(-6).tickSizeOuter(0)).call(styleAxis);
  svg.append('g').attr('transform',`translate(${R},0)`)
    .call(d3.axisRight(y).tickValues(p.yM).tickFormat('').tickSizeInner(-3).tickSizeOuter(0)).call(styleAxis);
  // frame
  svg.append('rect').attr('x',L).attr('y',T).attr('width',R-L).attr('height',H)
    .attr('fill','none').attr('stroke',axisColor).attr('stroke-width',1.5);
  // intensity annotation
  const t=svg.append('text').attr('x',R-20).attr('y',T+annoDy[p.row]).attr('text-anchor','end')
    .attr('font-size',19).attr('fill','#000');
  t.append('tspan').text('I='+p.I[0]+'×\u00a010');
  t.append('tspan').attr('dy',-8).attr('font-size',14).text(p.I[1]);
  t.append('tspan').attr('dy',8).text('\u00a0\u00a0W cm');
  t.append('tspan').attr('dy',-8).attr('font-size',14).text('−2');
  // y label (left column)
  if(p.col===0){
    const yl=svg.append('text').attr('transform',`translate(29,${T+H/2}) rotate(-90)`)
      .attr('text-anchor','middle').attr('font-size',19).attr('fill','#000');
    yl.append('tspan').text('log');
    yl.append('tspan').attr('dy',5).attr('font-size',14).text('10');
    yl.append('tspan').attr('dy',-5).text('\u00a0(S(ω))');
  }
});

// column titles
titles.forEach((tt,c)=>{
  const [L,R]=colX[c];
  svg.append('text').attr('x',(L+R)/2).attr('y',27).attr('text-anchor','middle')
    .attr('font-size',19).attr('fill','#000').text(tt);
  svg.append('text').attr('x',(L+R)/2).attr('y',863).attr('text-anchor','middle')
    .attr('font-size',19).attr('fill','#000').text('Harmonic Order');
});

// legend (inside panel row 1, right column)
const legY=[347,369,391];
seriesNames.forEach((n,k)=>{
  svg.append('text').attr('x',689).attr('y',legY[k]+7).attr('text-anchor','end')
    .attr('font-size',19).attr('fill','#000').text(n);
  const st=styles[k];
  const ln=svg.append('line').attr('x1',702).attr('x2',730).attr('y1',legY[k]).attr('y2',legY[k])
    .attr('stroke',st.stroke).attr('stroke-width',st.w);
  if(st.dash) ln.attr('stroke-dasharray',st.dash);
});
</script>
</body></html>
